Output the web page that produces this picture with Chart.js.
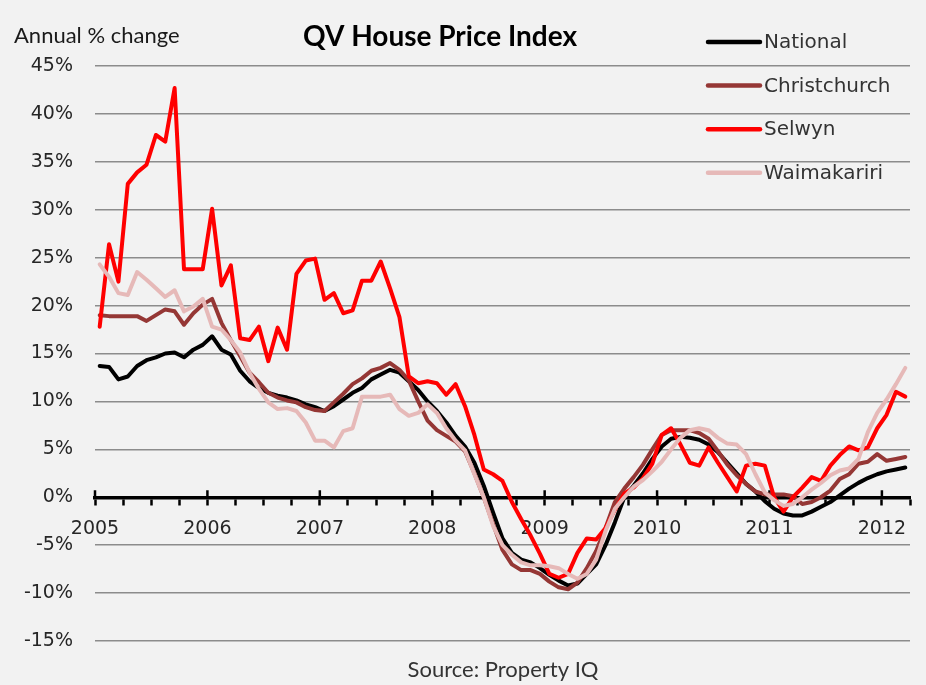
<!DOCTYPE html>
<html>
<head>
<meta charset="utf-8">
<title>QV House Price Index</title>
<script src="https://cdn.jsdelivr.net/npm/chart.js@4.4.1/dist/chart.umd.min.js"></script>
<style>
    html, body { margin: 0; padding: 0; background: #f2f2f2; }
    #wrap { width: 926px; height: 685px; }
</style>
</head>
<body>
<div id="wrap"><canvas id="hpiChart" width="926" height="685"></canvas></div>
<script>
// monthly series, Jan 2005 .. Mar 2012 (annual % change)
const startYear = 2005;
const seriesNames = ["National", "Christchurch", "Selwyn", "Waimakariri"];
const seriesColors = ["#000000", "#953735", "#ff0000", "#e6b9b8"];

const national = [
    13.7, 13.6, 12.3, 12.6, 13.7, 14.3, 14.6, 15.0, 15.1, 14.6, 15.4, 15.9,
    16.8, 15.4, 14.9, 13.2, 12.1, 11.4, 10.9, 10.6, 10.4, 10.1, 9.7, 9.4,
    9.0, 9.5, 10.2, 10.9, 11.4, 12.3, 12.8, 13.3, 13.0, 12.1, 11.2, 10.0,
    9.0, 7.8, 6.4, 5.3, 3.6, 1.2, -1.6, -4.3, -5.8, -6.5, -6.8, -7.4,
    -8.1, -8.7, -9.2, -9.0, -8.0, -7.0, -5.0, -2.6, 0.0, 1.2, 2.5, 4.0,
    5.3, 6.1, 6.3, 6.2, 6.0, 5.5, 4.7, 3.6, 2.5, 1.4, 0.6, -0.4,
    -1.2, -1.7, -1.9, -1.9, -1.5, -1.0, -0.5, 0.2, 0.9, 1.5, 2.0, 2.4,
    2.7, 2.9, 3.1,
];
const christchurch = [
    19.0, 18.9, 18.9, 18.9, 18.9, 18.4, 19.0, 19.6, 19.4, 18.0, 19.2, 20.1,
    20.7, 18.2, 16.4, 14.7, 13.0, 12.0, 10.9, 10.4, 10.1, 9.9, 9.4, 9.1,
    9.0, 9.9, 10.8, 11.8, 12.4, 13.2, 13.5, 14.0, 13.3, 12.2, 10.0, 8.0,
    7.0, 6.4, 5.8, 4.8, 2.5, 0.0, -2.8, -5.5, -7.0, -7.6, -7.6, -8.0,
    -8.8, -9.4, -9.6, -8.9, -7.4, -5.6, -3.2, -0.5, 0.9, 2.1, 3.4, 5.0,
    6.5, 7.0, 7.0, 7.0, 6.7, 6.1, 4.8, 3.4, 2.3, 1.4, 0.6, 0.3,
    0.3, 0.3, 0.1, -0.7, -0.5, 0.0, 0.7, 1.9, 2.4, 3.5, 3.7, 4.5,
    3.8, 4.0, 4.2,
];
const selwyn = [
    17.8, 26.4, 22.5, 32.7, 33.9, 34.7, 37.8, 37.1, 42.7, 23.8, 23.8, 23.8,
    30.1, 22.1, 24.2, 16.6, 16.4, 17.8, 14.2, 17.7, 15.4, 23.3, 24.7, 24.9,
    20.6, 21.3, 19.2, 19.5, 22.6, 22.6, 24.6, 21.8, 18.8, 12.6, 11.9, 12.1,
    11.9, 10.7, 11.8, 9.5, 6.5, 2.9, 2.4, 1.7, -0.5, -2.3, -4.0, -5.9,
    -8.0, -8.4, -8.0, -5.8, -4.3, -4.4, -3.2, -1.3, 0.4, 1.0, 2.0, 3.5,
    6.5, 7.2, 5.5, 3.6, 3.3, 5.2, 3.6, 2.1, 0.6, 3.3, 3.5, 3.3,
    0.0, -1.5, 0.0, 1.0, 2.1, 1.7, 3.3, 4.4, 5.3, 4.9, 5.2, 7.2,
    8.6, 11.0, 10.5,
];
const waimakariri = [
    24.3, 23.0, 21.3, 21.1, 23.5, 22.7, 21.8, 20.9, 21.6, 19.4, 19.9, 20.7,
    17.8, 17.5, 16.4, 15.1, 13.0, 11.3, 9.9, 9.2, 9.3, 9.0, 7.8, 5.9,
    5.9, 5.2, 6.9, 7.2, 10.5, 10.5, 10.5, 10.7, 9.2, 8.5, 8.8, 9.7,
    8.8, 7.2, 5.9, 4.9, 2.4, 0.0, -3.0, -5.0, -6.0, -6.8, -7.1, -7.1,
    -7.2, -7.4, -8.0, -8.5, -8.0, -6.5, -3.5, -1.2, 0.0, 1.1, 1.8, 2.7,
    3.7, 5.0, 6.2, 7.0, 7.2, 7.0, 6.2, 5.6, 5.5, 4.5, 2.4, 0.5,
    -0.3, -0.9, -0.7, 0.0, 0.8, 1.5, 2.3, 2.8, 3.0, 4.0, 6.8, 8.8,
    10.2, 11.8, 13.5,
];

const yTicks = [-15, 45, 5]; // min, max, step
const monthsOnAxis = 87; // Jan 2005 .. Apr 2012

// month index -> point in the middle of the month
function toPoints(values) {
    return values.map((v, i) => ({ x: i + 0.5, y: v }));
}

const allSeries = [national, christchurch, selwyn, waimakariri];

const backgroundPlugin = {
    id: "pageBackground",
    beforeDraw(chart) {
        const ctx = chart.ctx;
        ctx.save();
        ctx.fillStyle = "#f2f2f2";
        ctx.fillRect(0, 0, chart.width, chart.height);
        ctx.restore();
    },
};

// year ticks cross the axis line
const majorTickPlugin = {
    id: "majorTicks",
    beforeDatasetsDraw(chart) {
        const ctx = chart.ctx;
        const xScale = chart.scales.x;
        const y0 = chart.scales.y.getPixelForValue(0);
        ctx.save();
        ctx.strokeStyle = "#000";
        ctx.lineWidth = 2.5;
        xScale.ticks.forEach(t => {
            if (t.value % 12 !== 0) return;
            const px = xScale.getPixelForValue(t.value);
            ctx.beginPath();
            ctx.moveTo(px, y0 - 7);
            ctx.lineTo(px, y0);
            ctx.stroke();
        });
        ctx.restore();
    },
};

const textPlugin = {
    id: "chartTexts",
    afterDraw(chart) {
        const ctx = chart.ctx;
        ctx.save();
        ctx.textBaseline = "middle";

        ctx.fillStyle = "#000";
        ctx.font = "bold 28px Lato";
        ctx.textAlign = "center";
        ctx.fillText("QV House Price Index", 440, 37);

        ctx.fillStyle = "#1a1a1a";
        ctx.font = "22px Lato";
        ctx.textAlign = "left";
        ctx.fillText("Annual % change", 14, 36);

        ctx.fillStyle = "#333";
        ctx.font = "22px Lato";
        ctx.textAlign = "center";
        ctx.fillText("Source: Property IQ", 503, 670);
        ctx.restore();
    },
};

const legendPlugin = {
    id: "lineLegend",
    afterDraw(chart) {
        const ctx = chart.ctx;
        const area = chart.chartArea;
        ctx.save();
        ctx.font = "20px 'DejaVu Sans'";
        ctx.textAlign = "left";
        ctx.textBaseline = "middle";
        chart.data.datasets.forEach((ds, i) => {
            const x = area.right - 202;
            const y = area.top - 24 + i * 43.6;
            ctx.strokeStyle = ds.borderColor;
            ctx.lineWidth = 4.5;
            ctx.lineCap = "round";
            ctx.beginPath();
            ctx.moveTo(x, y);
            ctx.lineTo(x + 52, y);
            ctx.stroke();
            ctx.fillStyle = "#333";
            ctx.fillText(ds.label, x + 56, y + 1);
        });
        ctx.restore();
    },
};

const ctx = document.getElementById("hpiChart").getContext("2d");

new Chart(ctx, {
    type: "line",
    data: {
        datasets: seriesNames.map((name, i) => ({
            label: name,
            data: toPoints(allSeries[i]),
            borderColor: seriesColors[i],
            backgroundColor: seriesColors[i],
            borderWidth: 4,
            pointRadius: 0,
            tension: 0,
            borderJoinStyle: "round",
            borderCapStyle: "round",
            // later series on top, as in the original
            order: seriesNames.length - i,
        })),
    },
    options: {
        responsive: false,
        animation: false,
        layout: {
            padding: { top: 66, bottom: 44, left: 0, right: 16 },
        },
        plugins: {
            legend: { display: false },
            tooltip: { enabled: false },
            title: { display: false },
        },
        scales: {
            x: {
                type: "linear",
                position: { y: 0 },
                min: 0,
                max: monthsOnAxis,
                ticks: {
                    stepSize: 3,
                    autoSkip: false,
                    maxRotation: 0,
                    padding: 14,
                    color: "#262626",
                    font: { family: "DejaVu Sans", size: 19 },
                    callback: v => (v % 12 === 0 ? String(startYear + v / 12) : ""),
                },
                grid: {
                    drawOnChartArea: false,
                    tickLength: 6,
                    tickColor: "#000",
                    tickWidth: 2.5,
                },
                border: { color: "#000", width: 3.5 },
            },
            y: {
                min: yTicks[0],
                max: yTicks[1],
                ticks: {
                    stepSize: yTicks[2],
                    padding: 22,
                    color: "#262626",
                    font: { family: "DejaVu Sans", size: 19 },
                    callback: v => v + "%",
                },
                grid: { color: "#8c8c8c", lineWidth: 1.5, drawTicks: false },
                border: { display: false },
                afterFit: scale => {
                    scale.width = 95;
                },
            },
        },
    },
    plugins: [backgroundPlugin, majorTickPlugin, textPlugin, legendPlugin],
});
</script>
</body>
</html>
